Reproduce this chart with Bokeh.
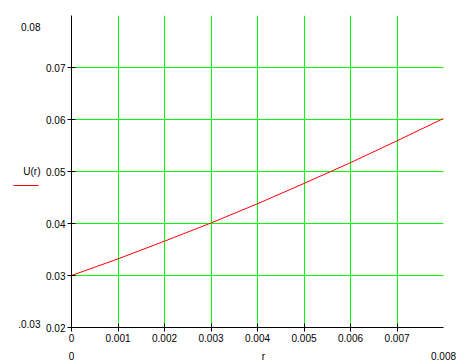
from bokeh.plotting import figure
from bokeh.models import (Range1d, FixedTicker, Grid, LinearAxis, CustomJSTickFormatter)
from bokeh.embed import file_html
from bokeh.resources import INLINE

# data
r_vals = [0.0, 0.001, 0.002, 0.003, 0.004, 0.005, 0.006, 0.007, 0.008]
u_vals = [0.0300, 0.0332, 0.0366, 0.0401, 0.0438, 0.0477, 0.0517, 0.0559, 0.0602]
x_ticks = [0.0, 0.001, 0.002, 0.003, 0.004, 0.005, 0.006, 0.007]
y_ticks = [0.02, 0.03, 0.04, 0.05, 0.06, 0.07]
x_grid = [0.001, 0.002, 0.003, 0.004, 0.005, 0.006, 0.007]
y_grid = [0.03, 0.04, 0.05, 0.06, 0.07]
x_min, x_max = 0.0, 0.008
y_min, y_max = 0.02, 0.08
x_row_labels = ["0", "r", "0.008"]          # limit labels + axis title under the x axis
y_col_labels = [".0.03", "U(r)", "0.08"]    # limit labels + axis title left of the y axis

FONT = "Liberation Sans"
FS = "10px"
W, H = 474, 364
ML, MR, MT, MB = 71, 31, 15, 37
FW, FH = W - ML - MR, H - MT - MB
dx = (x_max - x_min) / FW   # data per pixel
dy = (y_max - y_min) / FH

p = figure(width=W, height=H, output_backend="svg", toolbar_location=None,
           x_range=Range1d(x_min, x_max), y_range=Range1d(y_min, y_max),
           min_border_left=ML, min_border_right=MR, min_border_top=MT, min_border_bottom=MB)
p.outline_line_color = None
p.background_fill_color = "white"
p.border_fill_color = "white"
for g in p.select(type=Grid):
    g.visible = False
p.center = [c for c in p.center if not isinstance(c, Grid)]

p.add_layout(Grid(dimension=0, ticker=FixedTicker(ticks=x_grid), grid_line_color="#00ff00", grid_line_width=1))
p.add_layout(Grid(dimension=1, ticker=FixedTicker(ticks=y_grid), grid_line_color="#00ff00", grid_line_width=1))

def style(ax):
    ax.axis_line_color = "black"
    ax.axis_line_width = 1
    ax.major_tick_line_color = "black"
    ax.major_tick_in = 4
    ax.major_tick_out = 4
    ax.minor_tick_line_color = None
    ax.minor_tick_in = 0
    ax.minor_tick_out = 0
    ax.major_label_text_font = FONT
    ax.major_label_text_font_size = FS
    ax.major_label_text_color = "black"

xa, ya = p.xaxis[0], p.yaxis[0]
style(xa); style(ya)
xa.ticker = FixedTicker(ticks=x_ticks)
ya.ticker = FixedTicker(ticks=y_ticks)
xa.formatter = CustomJSTickFormatter(code="return tick == 0 ? '0' : tick.toFixed(3);")
ya.formatter = CustomJSTickFormatter(code="return tick.toFixed(2);")
xa.major_label_standoff = 2
ya.major_label_standoff = 2

# second row under the x axis: "0"  "r"  "0.008"
x_row_pos = [x_min, (x_min + x_max) / 2 + 6 * dx, x_max]
xb = LinearAxis(ticker=FixedTicker(ticks=x_row_pos),
                formatter=CustomJSTickFormatter(args=dict(labels=x_row_labels), code="return labels[index];"))
style(xb)
xb.axis_line_color = None
xb.major_tick_line_color = None
xb.major_tick_in = 0
xb.major_tick_out = 0
xb.major_label_standoff = 6
p.add_layout(xb, "below")

# column left of the y axis: ".0.03"  "U(r)"  "0.08", with the red legend line
y_col_pos = [y_min + 3 * dy, (y_min + y_max) / 2, y_max - 12 * dy]
legend_line_y = (y_min + y_max) / 2 - 14 * dy
yb = LinearAxis(ticker=FixedTicker(ticks=y_col_pos, minor_ticks=[legend_line_y]),
                formatter=CustomJSTickFormatter(args=dict(labels=y_col_labels), code="return labels[index];"))
style(yb)
yb.axis_line_color = None
yb.major_tick_line_color = None
yb.major_tick_in = 0
yb.major_tick_out = 0
yb.minor_tick_line_color = "#ff0000"
yb.minor_tick_line_width = 1
yb.minor_tick_out = 30
yb.minor_tick_in = -5
yb.major_label_standoff = -27
p.add_layout(yb, "left")

p.line(r_vals, u_vals, line_color="#ff0000", line_width=1)

open("out.html", "w").write(file_html(p, INLINE))
